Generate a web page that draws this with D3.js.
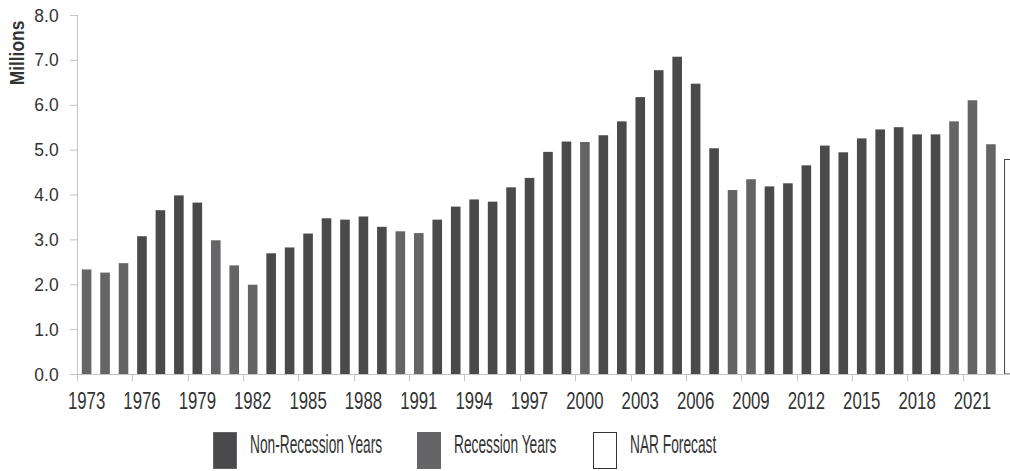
<!DOCTYPE html>
<html>
<head>
<meta charset="utf-8">
<script src="https://cdn.jsdelivr.net/npm/d3@7"></script>
<style>
  html, body { margin: 0; padding: 0; background: #fff; }
  svg { display: block; }
  text { font-family: "Liberation Sans", Arial, sans-serif; fill: #333; }
</style>
</head>
<body>
<svg id="chart" width="1010" height="471"></svg>
<script>
// Existing-home sales, millions of units
const years = [1973,1974,1975,1976,1977,1978,1979,1980,1981,1982,
               1983,1984,1985,1986,1987,1988,1989,1990,1991,1992,
               1993,1994,1995,1996,1997,1998,1999,2000,2001,2002,
               2003,2004,2005,2006,2007,2008,2009,2010,2011,2012,
               2013,2014,2015,2016,2017,2018,2019,2020,2021,2022,
               2023];
const sales = [2.33,2.26,2.47,3.07,3.65,3.98,3.82,2.98,2.42,1.99,
               2.69,2.82,3.13,3.47,3.44,3.51,3.28,3.18,3.14,3.44,
               3.73,3.89,3.84,4.16,4.37,4.95,5.18,5.17,5.32,5.63,
               6.17,6.77,7.07,6.47,5.03,4.10,4.34,4.18,4.25,4.65,
               5.09,4.94,5.25,5.45,5.50,5.34,5.34,5.63,6.10,5.12,
               4.78];
const recessionYears = [1973,1974,1975,1980,1981,1982,1990,1991,2000,2008,2009,2020,2021,2022];
const forecastYears = [2023];
const yTicks = [0,1,2,3,4,5,6,7,8];
const xTickYears = [1973,1976,1979,1982,1985,1988,1991,1994,1997,2000,2003,2006,2009,2012,2015,2018,2021];
const legendLabels = ["Non-Recession Years", "Recession Years", "NAR Forecast"];

const colors = { non: "#4a4a4c", rec: "#656567", forecast: "#ffffff" };
const kind = yr => forecastYears.includes(yr) ? "forecast" : (recessionYears.includes(yr) ? "rec" : "non");

const svg = d3.select("#chart");
const plotLeft = 77, plotBottom = 374, plotTop = 15, yearStep = 18.47;

const x = d3.scaleBand()
  .domain(years)
  .range([plotLeft, plotLeft + yearStep * years.length])
  .paddingInner(0.48)
  .paddingOuter(0.26);
const y = d3.scaleLinear().domain([0, 8]).range([plotBottom, plotTop]);

// Bars
svg.append("g").selectAll("rect")
  .data(years.map((yr, i) => ({ yr, v: sales[i] })))
  .join("rect")
  .attr("x", d => x(d.yr))
  .attr("y", d => y(d.v))
  .attr("width", x.bandwidth())
  .attr("height", d => y(0) - y(d.v))
  .attr("fill", d => colors[kind(d.yr)])
  .attr("stroke", d => kind(d.yr) === "forecast" ? "#444" : "none")
  .attr("stroke-width", 1);

// Y axis
const yAxis = svg.append("g").attr("transform", `translate(${plotLeft},0)`)
  .call(d3.axisLeft(y).tickValues(yTicks).tickFormat(d3.format(".1f")).tickSize(7).tickPadding(13));
yAxis.select(".domain").attr("stroke", "#c4c4c4").attr("d", `M0.5,${plotTop}V${plotBottom}`);
yAxis.selectAll(".tick line").attr("stroke", "#c4c4c4");
yAxis.selectAll(".tick text")
  .attr("font-size", 19)
  .attr("transform", "scale(0.92,1)")
  .style("font-family", "'Liberation Sans', Arial, sans-serif")
  .attr("fill", "#333");

// X axis: ticks sit on the left edge of every third year, labels centred on the bar
const xAxisG = svg.append("g").attr("transform", `translate(0,${plotBottom})`);
xAxisG.append("line")
  .attr("x1", 70).attr("x2", 1010)
  .attr("y1", 0.5).attr("y2", 0.5)
  .attr("stroke", "#c4c4c4");
const bandStart = yr => x(yr) - x.step() * x.paddingInner() / 2 - 0.5;
xAxisG.selectAll(".xt")
  .data(xTickYears)
  .join("line")
  .attr("class", "xt")
  .attr("x1", d => Math.round(bandStart(d)) + 0.5)
  .attr("x2", d => Math.round(bandStart(d)) + 0.5)
  .attr("y1", 0).attr("y2", 7)
  .attr("stroke", "#c4c4c4");
xAxisG.selectAll(".xl")
  .data(xTickYears)
  .join("text")
  .attr("class", "xl")
  .attr("transform", d => `translate(${x(d) + x.bandwidth() / 2},35) scale(0.73,1)`)
  .attr("text-anchor", "middle")
  .attr("font-size", 23)
  .text(d => d);

// Y axis title
svg.append("text")
  .attr("transform", "translate(24,53) rotate(-90) scale(0.87,1)")
  .attr("text-anchor", "middle")
  .attr("font-size", 20)
  .attr("font-weight", "bold")
  .attr("fill", "#222")
  .text("Millions");

// Legend
const legendX = [213, 417, 593];
const legendKinds = ["non", "rec", "forecast"];
const lg = svg.append("g");
legendLabels.forEach((lab, i) => {
  lg.append("rect")
    .attr("x", legendX[i] + 0.5).attr("y", 432.5)
    .attr("width", 23).attr("height", 36)
    .attr("fill", colors[legendKinds[i]])
    .attr("stroke", legendKinds[i] === "forecast" ? "#333" : "#666")
    .attr("stroke-width", 1);
  lg.append("text")
    .attr("transform", `translate(${legendX[i] + 37},453) scale(0.55,1)`)
    .attr("font-size", 25)
    .text(lab);
});
</script>
</body>
</html>
